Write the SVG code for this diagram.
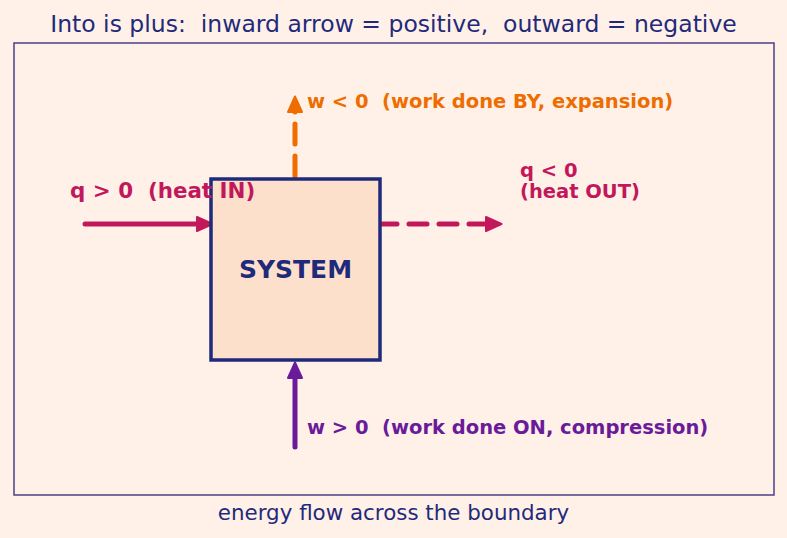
<svg xmlns="http://www.w3.org/2000/svg" width="787" height="538" viewBox="0 0 787 538">
<style>
text{font-family:"DejaVu Sans",sans-serif;white-space:pre}
.t{fill:#1f2a7a}
.b{font-weight:bold}
.heat{fill:#c2185b}
.wo{fill:#ef6c00}
.wp{fill:#6a1b9a}
.ln{fill:none;stroke-width:5;stroke-linecap:round}
</style>
<defs>
<marker id="mh" markerWidth="5" markerHeight="5" refX="1" refY="2.5" orient="auto" markerUnits="strokeWidth"><path d="M0.2,1.1 L3.3,2.5 L0.2,3.9 Z" fill="#c2185b" stroke="#c2185b" stroke-width="0.4" stroke-linejoin="round"/></marker>
<marker id="mo" markerWidth="5" markerHeight="5" refX="1" refY="2.5" orient="auto" markerUnits="strokeWidth"><path d="M0.2,1.1 L3.3,2.5 L0.2,3.9 Z" fill="#ef6c00" stroke="#ef6c00" stroke-width="0.4" stroke-linejoin="round"/></marker>
<marker id="mp" markerWidth="5" markerHeight="5" refX="1" refY="2.5" orient="auto" markerUnits="strokeWidth"><path d="M0.2,1.1 L3.3,2.5 L0.2,3.9 Z" fill="#6a1b9a" stroke="#6a1b9a" stroke-width="0.4" stroke-linejoin="round"/></marker>
</defs>
<rect width="787" height="538" fill="#fff1e8"/>
<text class="t" x="393.5" y="32" text-anchor="middle" font-size="23.5">Into is plus:  inward arrow = positive,  outward = negative</text>
<rect x="14" y="43" width="760" height="452" fill="none" stroke="#4b3f8a" stroke-width="1.5"/>
<g id="connectors">
<path class="ln" d="M85,224 L201,224" stroke="#c2185b" marker-end="url(#mh)"/>
<path class="ln" d="M379,224 L490,224" stroke="#c2185b" stroke-dasharray="18,12" marker-end="url(#mh)"/>
<path class="ln" d="M295,176 L295,108" stroke="#ef6c00" stroke-dasharray="20,12" marker-end="url(#mo)"/>
<path class="ln" d="M295,447 L295,374" stroke="#6a1b9a" marker-end="url(#mp)"/>
</g>
<g id="system">
<rect x="211" y="179" width="169" height="181" fill="#fde0cc" stroke="#1f2a7a" stroke-width="3.5"/>
<text x="295.5" y="278" text-anchor="middle" class="b" font-size="25" fill="#1f2a7a">SYSTEM</text>
</g>
<g id="label-heat-in"><text x="70" y="198" class="b heat" font-size="21.4">q &gt; 0  (heat IN)</text></g>
<g id="label-heat-out"><text x="520" y="177" class="b heat" font-size="19.5">q &lt; 0</text><text x="520" y="198" class="b heat" font-size="19.5">(heat OUT)</text></g>
<g id="label-work-by"><text x="307" y="108" class="b wo" font-size="19.5">w &lt; 0  (work done BY, expansion)</text></g>
<g id="label-work-on"><text x="307" y="434" class="b wp" font-size="19.5">w &gt; 0  (work done ON, compression)</text></g>
<text class="t" x="393.5" y="520" text-anchor="middle" font-size="21.4">energy flow across the boundary</text>
</svg>
